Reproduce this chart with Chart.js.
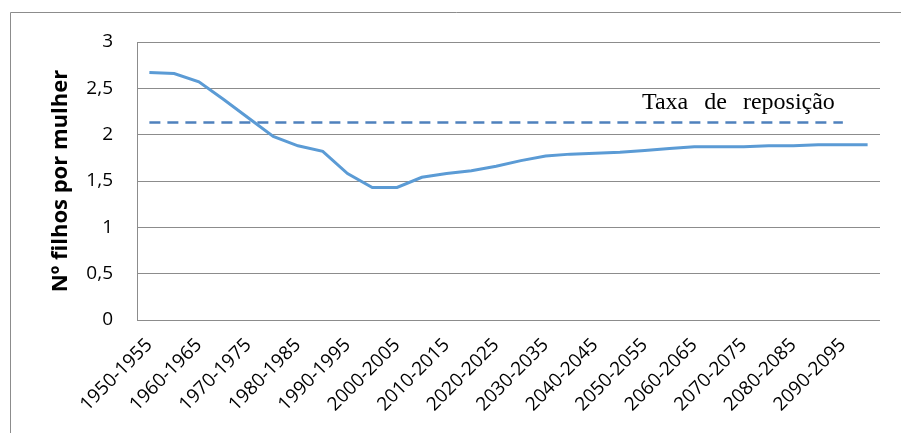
<!DOCTYPE html>
<html>
<head>
<meta charset="utf-8">
<script src="https://cdn.jsdelivr.net/npm/chart.js@4"></script>
<style>
  html, body { margin: 0; padding: 0; background: #fff; }
  #wrap { width: 901px; height: 433px; }
</style>
</head>
<body>
<div id="wrap"><canvas id="tfrChart" width="901" height="433"></canvas></div>
<script>
// === Dados ===
const periodos = [
  "1950-1955", "1955-1960", "1960-1965", "1965-1970", "1970-1975", "1975-1980",
  "1980-1985", "1985-1990", "1990-1995", "1995-2000", "2000-2005", "2005-2010",
  "2010-2015", "2015-2020", "2020-2025", "2025-2030", "2030-2035", "2035-2040",
  "2040-2045", "2045-2050", "2050-2055", "2055-2060", "2060-2065", "2065-2070",
  "2070-2075", "2075-2080", "2080-2085", "2085-2090", "2090-2095", "2095-2100"
];
const filhosPorMulher = [
  2.67, 2.66, 2.57, 2.38, 2.18, 1.98, 1.88, 1.82, 1.58, 1.43,
  1.43, 1.54, 1.58, 1.61, 1.66, 1.72, 1.77, 1.79, 1.80, 1.81,
  1.83, 1.85, 1.87, 1.87, 1.87, 1.88, 1.88, 1.89, 1.89, 1.89
];
const taxaReposicao = 2.13;
const reposicaoSerie = periodos.map((p, i) => i < periodos.length - 1 ? taxaReposicao : null);
const yTicks = [0, 0.5, 1, 1.5, 2, 2.5, 3];
const textoReposicao = ["Taxa", "de", "reposição"];

// === Moldura e texto ===
const molduraPlugin = {
  id: "moldura",
  beforeDraw(chart) {
    const c = chart.ctx;
    c.save();
    c.strokeStyle = "#8c8c8c";
    c.lineWidth = 1;
    c.beginPath();
    c.moveTo(10.5, 440);
    c.lineTo(10.5, 12.5);
    c.lineTo(910, 12.5);
    c.stroke();
    c.restore();
  },
  afterDatasetsDraw(chart) {
    const c = chart.ctx;
    const x = chart.scales.x, y = chart.scales.y;
    c.save();
    c.font = "24px 'Liberation Serif', 'Times New Roman', serif";
    c.fillStyle = "#000";
    c.textBaseline = "alphabetic";
    const gap = 16;
    const widths = textoReposicao.map(w => c.measureText(w).width);
    const total = widths.reduce((a, b) => a + b, 0) + gap * (widths.length - 1);
    let px = x.getPixelForValue(periodos.length - 2) - 8 - total;
    const py = y.getPixelForValue(taxaReposicao) - 14;
    textoReposicao.forEach((w, i) => {
      c.fillText(w, px, py);
      px += widths[i] + gap;
    });
    c.restore();
  }
};

// === Gráfico ===
const ctx = document.getElementById("tfrChart").getContext("2d");
new Chart(ctx, {
  type: "line",
  data: {
    labels: periodos,
    datasets: [
      {
        label: "Nº filhos por mulher",
        data: filhosPorMulher,
        borderColor: "#5b9bd5",
        borderWidth: 3,
        pointRadius: 0,
        tension: 0,
        fill: false
      },
      {
        label: "Taxa de reposição",
        data: reposicaoSerie,
        borderColor: "#4f81bd",
        borderWidth: 2.5,
        borderDash: [11, 7],
        pointRadius: 0,
        fill: false
      }
    ]
  },
  options: {
    responsive: false,
    animation: false,
    layout: { padding: { top: 42, right: 21, left: 0, bottom: 0 } },
    plugins: {
      legend: { display: false },
      tooltip: { enabled: false }
    },
    scales: {
      x: {
        offset: true,
        grid: { display: false, drawTicks: false },
        border: { display: false },
        ticks: {
          autoSkip: false,
          minRotation: 45,
          maxRotation: 45,
          padding: 14,
          color: "#000",
          font: { family: "'Open Sans', sans-serif", size: 19 },
          callback: (v, i) => i % 2 === 0 ? periodos[i] : ""
        },
        afterFit: s => { s.height = 113; }
      },
      y: {
        min: 0,
        max: 3,
        afterBuildTicks: s => { s.ticks = yTicks.map(v => ({ value: v })); },
        grid: { color: "#8c8c8c", lineWidth: 1, drawTicks: false },
        border: { display: true, color: "#8c8c8c", width: 1 },
        ticks: {
          padding: 24,
          color: "#000",
          font: { family: "'Open Sans', sans-serif", size: 19 },
          callback: v => String(v).replace(".", ",")
        },
        title: {
          display: true,
          text: "Nº filhos por mulher",
          color: "#000",
          padding: { top: 48, bottom: 0 },
          font: { family: "'Open Sans', sans-serif", size: 22, weight: "bold" }
        },
        afterFit: s => { s.width = 137; }
      }
    }
  },
  plugins: [molduraPlugin]
});
</script>
</body>
</html>
